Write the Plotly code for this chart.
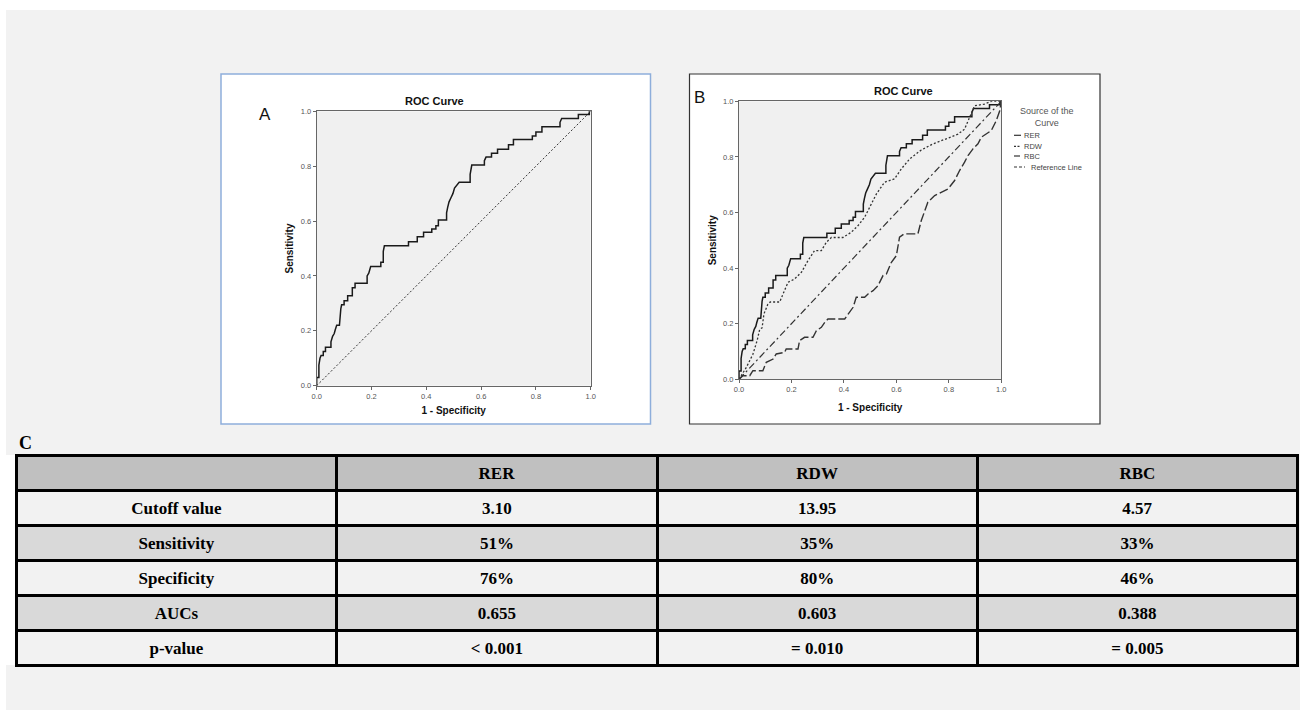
import plotly.graph_objects as go

W, H = 1300, 720

# ---------------- data ----------------
tick_vals = [0.0, 0.2, 0.4, 0.6, 0.8, 1.0]
tick_text = ["0.0", "0.2", "0.4", "0.6", "0.8", "1.0"]

# RER ROC curve (1 - specificity, sensitivity)
rer_fpr = [0, 0, 0.008, 0.008, 0.012, 0.016, 0.024, 0.024, 0.032, 0.032, 0.052, 0.052, 0.058, 0.064,
           0.068, 0.073, 0.083, 0.085, 0.088, 0.091, 0.1, 0.1, 0.113, 0.113, 0.13, 0.13, 0.14, 0.14,
           0.184, 0.184, 0.19, 0.197, 0.234, 0.234, 0.243, 0.243, 0.247, 0.335, 0.335, 0.367, 0.367,
           0.39, 0.39, 0.42, 0.42, 0.435, 0.435, 0.444, 0.444, 0.474, 0.474, 0.478, 0.483, 0.49, 0.497,
           0.503, 0.51, 0.52, 0.56, 0.56, 0.566, 0.612, 0.612, 0.618, 0.638, 0.638, 0.66, 0.66, 0.7,
           0.7, 0.718, 0.718, 0.787, 0.787, 0.8, 0.8, 0.822, 0.822, 0.888, 0.888, 0.894, 0.955, 0.955,
           0.995, 0.995, 1.0]
rer_tpr = [0, 0.03, 0.03, 0.075, 0.10, 0.11, 0.11, 0.125, 0.125, 0.14, 0.14, 0.16, 0.18, 0.19,
           0.205, 0.22, 0.22, 0.25, 0.28, 0.295, 0.295, 0.31, 0.31, 0.328, 0.328, 0.357, 0.357, 0.373,
           0.373, 0.40, 0.41, 0.434, 0.434, 0.45, 0.45, 0.49, 0.51, 0.51, 0.525, 0.525, 0.543,
           0.543, 0.559, 0.559, 0.571, 0.571, 0.583, 0.583, 0.604, 0.604, 0.63, 0.65, 0.67, 0.685, 0.70,
           0.72, 0.73, 0.741, 0.741, 0.77, 0.804, 0.804, 0.82, 0.833, 0.833, 0.847, 0.847, 0.862, 0.862,
           0.878, 0.878, 0.897, 0.897, 0.91, 0.91, 0.925, 0.925, 0.944, 0.944, 0.96, 0.974, 0.974, 0.988,
           0.988, 1.0, 1.0]

# RDW ROC curve
rdw_fpr = [0, 0.028, 0.053, 0.069, 0.079, 0.088, 0.095, 0.11, 0.119, 0.155, 0.168, 0.187, 0.212,
           0.238, 0.263, 0.288, 0.314, 0.333, 0.352, 0.396, 0.428, 0.454, 0.479, 0.498, 0.524, 0.555,
           0.593, 0.619, 0.651, 0.695, 0.74, 0.79, 0.835, 0.86, 0.879, 0.898, 0.936, 0.962, 1.0]
rdw_tpr = [0, 0.043, 0.09, 0.139, 0.18, 0.185, 0.235, 0.27, 0.278, 0.278, 0.307, 0.349, 0.361,
           0.385, 0.427, 0.463, 0.463, 0.493, 0.51, 0.51, 0.529, 0.553, 0.583, 0.619, 0.667, 0.709,
           0.721, 0.757, 0.793, 0.825, 0.847, 0.865, 0.882, 0.9, 0.942, 0.984, 0.99, 1.0, 1.0]

# RBC ROC curve
rbc_fpr = [0, 0.015, 0.041, 0.053, 0.091, 0.104, 0.13, 0.142, 0.174, 0.18, 0.225, 0.231, 0.25,
           0.282, 0.295, 0.314, 0.327, 0.339, 0.403, 0.416, 0.435, 0.447, 0.479, 0.492, 0.511, 0.53,
           0.549, 0.562, 0.581, 0.6, 0.612, 0.629, 0.682, 0.695, 0.708, 0.72, 0.746, 0.771, 0.797,
           0.822, 0.841, 0.86, 0.873, 0.892, 0.911, 0.924, 0.943, 0.962, 0.981, 0.994, 1.0]
rbc_tpr = [0, 0.013, 0.013, 0.031, 0.031, 0.061, 0.073, 0.091, 0.097, 0.109, 0.109, 0.139, 0.151,
           0.151, 0.175, 0.187, 0.205, 0.217, 0.217, 0.235, 0.259, 0.295, 0.295, 0.307, 0.319, 0.337,
           0.373, 0.379, 0.421, 0.445, 0.511, 0.523, 0.523, 0.571, 0.607, 0.637, 0.661, 0.673, 0.685,
           0.715, 0.751, 0.781, 0.805, 0.829, 0.847, 0.871, 0.883, 0.895, 0.931, 0.966, 1.0]

ref_fpr = [0.0, 1.0]
ref_tpr = [0.0, 1.0]

legend_names = ["RER", "RDW", "RBC", "Reference Line"]

table_header = ["", "RER", "RDW", "RBC"]
row_labels = ["Cutoff value", "Sensitivity", "Specificity", "AUCs", "p-value"]
rer_stats = ["3.10", "51%", "76%", "0.655", "< 0.001"]
rdw_stats = ["13.95", "35%", "80%", "0.603", "= 0.010"]
rbc_stats = ["4.57", "33%", "46%", "0.388", "= 0.005"]


# ---------------- helpers (window pixels -> paper fraction) ----------------
def px(x):
    return x / W


def py(y):
    return 1 - y / H


SANS = "Liberation Sans, Arial, sans-serif"
SERIF = "Liberation Serif, Times New Roman, serif"
LINE = "#1a1a1a"

RDW_DASH = "2px,2px"
RBC_DASH = "9px,3px"
REF_DASH_B = "7px,3px,2px,3px"
REF_DASH_A = "2px,2px"

fig = go.Figure()

# Panel A
fig.add_trace(go.Scatter(x=rer_fpr, y=rer_tpr, mode="lines", name="RER",
                         line=dict(color=LINE, width=1.5), xaxis="x", yaxis="y", showlegend=False))
fig.add_trace(go.Scatter(x=ref_fpr, y=ref_tpr, mode="lines", name="Reference Line",
                         line=dict(color="#333", width=1, dash=REF_DASH_A), xaxis="x", yaxis="y",
                         showlegend=False))
# Panel B
fig.add_trace(go.Scatter(x=rer_fpr, y=rer_tpr, mode="lines", name="RER",
                         line=dict(color=LINE, width=1.5), xaxis="x2", yaxis="y2", showlegend=False))
fig.add_trace(go.Scatter(x=rdw_fpr, y=rdw_tpr, mode="lines", name="RDW",
                         line=dict(color="#333", width=1.3, dash=RDW_DASH), xaxis="x2", yaxis="y2",
                         showlegend=False))
fig.add_trace(go.Scatter(x=rbc_fpr, y=rbc_tpr, mode="lines", name="RBC",
                         line=dict(color="#333", width=1.4, dash=RBC_DASH), xaxis="x2", yaxis="y2",
                         showlegend=False))
fig.add_trace(go.Scatter(x=ref_fpr, y=ref_tpr, mode="lines", name="Reference Line",
                         line=dict(color="#333", width=1.2, dash=REF_DASH_B), xaxis="x2", yaxis="y2",
                         showlegend=False))

# Table C
fill_rows = ["#f2f2f2", "#d9d9d9", "#f2f2f2", "#d9d9d9", "#f2f2f2"]
fig.add_trace(go.Table(
    domain=dict(x=[px(16.5), px(1298)], y=[py(668), py(455.5)]),
    columnwidth=[1, 1, 1, 1],
    header=dict(values=[f"<b>{h}</b>" for h in table_header],
                fill_color="#c0c0c0", line=dict(color="black", width=3),
                align="center", height=34,
                font=dict(family=SERIF, size=17, color="black")),
    cells=dict(values=[[f"<b>{v}</b>" for v in col] for col in
                       [row_labels, rer_stats, rdw_stats, rbc_stats]],
               fill_color=[fill_rows] * 4, line=dict(color="black", width=3),
               align="center", height=34,
               font=dict(family=SERIF, size=17, color="black")),
))


def axis(domain, title, standoff):
    return dict(
        domain=domain, range=[0, 1], tickvals=tick_vals, ticktext=tick_text,
        ticks="outside", ticklen=3, tickcolor="#666", tickwidth=1,
        showline=True, linecolor="#666", linewidth=1, mirror=True,
        showgrid=False, zeroline=False, fixedrange=True,
        tickfont=dict(family=SANS, size=7.5, color="#555"),
        title=dict(text=f"<b>{title}</b>", standoff=standoff,
                   font=dict(family=SANS, size=10, color="#111")),
        automargin=False,
    )


layout = dict(
    width=W, height=H, margin=dict(l=0, r=0, t=0, b=0),
    paper_bgcolor="white", plot_bgcolor="rgba(0,0,0,0)",
    xaxis=axis([px(316.7), px(590.7)], "1 - Specificity", 7),
    yaxis=axis([py(385.7), py(111.3)], "Sensitivity", 5),
    xaxis2=axis([px(739), px(1001.3)], "1 - Specificity", 10),
    yaxis2=axis([py(379.3), py(101.3)], "Sensitivity", 4),
)
layout["xaxis"]["anchor"] = "y"
layout["yaxis"]["anchor"] = "x"
layout["xaxis2"]["anchor"] = "y2"
layout["yaxis2"]["anchor"] = "x2"
fig.update_layout(**layout)

shapes = []
# page background
shapes.append(dict(type="rect", xref="paper", yref="paper", x0=px(6), x1=px(1300), y0=py(710), y1=py(10),
                   fillcolor="#f2f2f2", line=dict(width=0), layer="below"))
shapes.append(dict(type="rect", xref="paper", yref="paper", x0=px(0), x1=px(16.5), y0=py(665), y1=py(455),
                   fillcolor="white", line=dict(width=0), layer="below"))
# panel frames
shapes.append(dict(type="rect", xref="paper", yref="paper", x0=px(221), x1=px(650.5), y0=py(424), y1=py(74),
                   fillcolor="white", line=dict(color="#8eaedb", width=1.5), layer="below"))
shapes.append(dict(type="rect", xref="paper", yref="paper", x0=px(689.5), x1=px(1100), y0=py(424), y1=py(74),
                   fillcolor="white", line=dict(color="#333", width=1.2), layer="below"))
# plot areas
for xr, yr in (("x", "y"), ("x2", "y2")):
    shapes.append(dict(type="rect", xref=f"{xr} domain", yref=f"{yr} domain", x0=0, x1=1, y0=0, y1=1,
                       fillcolor="#f0f0f0", line=dict(width=0), layer="below"))

# legend samples for panel B
leg_y = [135.3, 146.3, 156.0, 167.0]
leg_dash = ["solid", "2px,1.5px", "6px,2px,2px", "3px,2px"]
leg_x1 = [1021, 1021, 1021, 1025]
for yv, d, x1 in zip(leg_y, leg_dash, leg_x1):
    shapes.append(dict(type="line", xref="paper", yref="paper", x0=px(1014), x1=px(x1),
                       y0=py(yv), y1=py(yv), line=dict(color="#333", width=1.2, dash=d)))
fig.update_layout(shapes=shapes)

ann = []
ann.append(dict(text="<b>ROC Curve</b>", x=px(434), y=py(100.7), xref="paper", yref="paper",
                showarrow=False, font=dict(family=SANS, size=11, color="#111"), xanchor="center",
                yanchor="middle"))
ann.append(dict(text="<b>ROC Curve</b>", x=px(903), y=py(90.7), xref="paper", yref="paper",
                showarrow=False, font=dict(family=SANS, size=11, color="#111"), xanchor="center",
                yanchor="middle"))
ann.append(dict(text="A", x=px(265), y=py(114), xref="paper", yref="paper", showarrow=False,
                font=dict(family=SANS, size=17, color="#111"), xanchor="center", yanchor="middle"))
ann.append(dict(text="B", x=px(699), y=py(98), xref="paper", yref="paper", showarrow=False,
                font=dict(family=SANS, size=17, color="#111"), xanchor="center", yanchor="middle"))
ann.append(dict(text="<b>C</b>", x=px(16.5), y=py(443), xref="paper", yref="paper", showarrow=False,
                font=dict(family=SERIF, size=18, color="black"), xanchor="left", yanchor="middle"))
ann.append(dict(text="Source of the<br>Curve", x=px(1046.7), y=py(116.7), xref="paper", yref="paper",
                showarrow=False, font=dict(family=SANS, size=9, color="#555"), xanchor="center",
                yanchor="middle", align="center"))
leg_tx = [1021.5, 1021.5, 1021.5, 1029]
for name, yv, tx in zip(legend_names, leg_y, leg_tx):
    ann.append(dict(text=name, x=px(tx), y=py(yv), xref="paper", yref="paper", showarrow=False,
                    font=dict(family=SANS, size=7.5, color="#444"), xanchor="left", yanchor="middle"))
fig.update_layout(annotations=ann)

# remove the default page margin so the 1300x720 figure fills the window exactly
fig.write_html("out.html",
               config={"displayModeBar": False},
               post_script="document.body.style.margin='0px';document.body.style.overflow='hidden';")
